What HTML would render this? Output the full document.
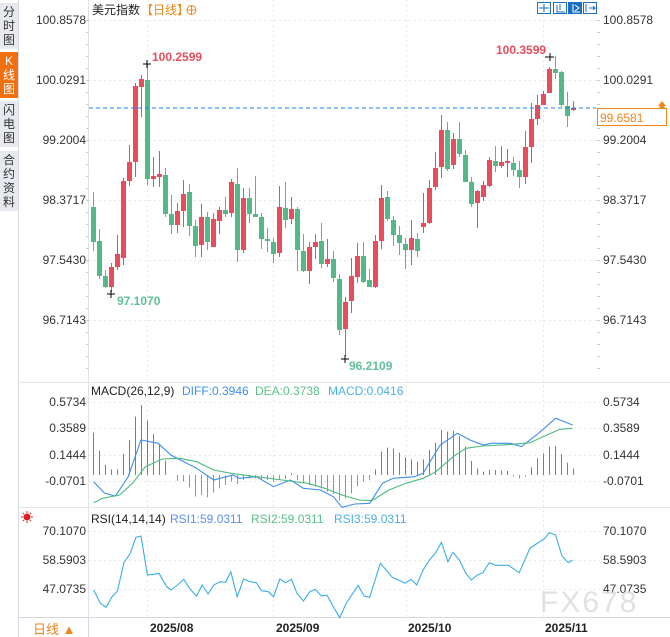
<!DOCTYPE html>
<html><head><meta charset="utf-8">
<style>
html,body{margin:0;padding:0;background:#fff;width:670px;height:637px;overflow:hidden;font-family:"Liberation Sans","Noto Sans CJK SC",sans-serif;}
#side{position:absolute;left:0;top:0;width:18px;height:637px;background:#fff;border-right:1px solid #d8dce3;}
.tab{position:absolute;left:0;width:18px;background:#e7e9ef;color:#333;font-size:12px;line-height:14px;text-align:center;}
svg{position:absolute;left:0;top:0;}
</style></head><body>
<svg id="s" width="670" height="637" xmlns="http://www.w3.org/2000/svg" font-family="Liberation Sans, Noto Sans CJK SC, sans-serif">
<rect x="0" y="0" width="670" height="637" fill="#fff"/>
<!-- panel frame -->
<line x1="88.5" y1="0" x2="88.5" y2="637" stroke="#dfe3e8"/>
<line x1="18" y1="382.5" x2="670" y2="382.5" stroke="#e3e6ea"/>
<line x1="18" y1="507.5" x2="670" y2="507.5" stroke="#e3e6ea"/>
<line x1="18" y1="617.5" x2="670" y2="617.5" stroke="#d5d9df"/>
<line x1="88.5" y1="617" x2="88.5" y2="637" stroke="#d5d9df"/>
<g id="grid" stroke="#e6e8ec" stroke-dasharray="2,3"></g>
<g id="draw"></g>
<!-- dashed current price line -->
<line x1="89" y1="108" x2="596" y2="108" stroke="#1a84f0" stroke-dasharray="4,3"/>
<!-- axis labels -->
<g font-size="12" fill="#333">
<text x="86" y="24" text-anchor="end">100.8578</text>
<text x="86" y="84" text-anchor="end">100.0291</text>
<text x="86" y="144" text-anchor="end">99.2004</text>
<text x="86" y="204" text-anchor="end">98.3717</text>
<text x="86" y="264" text-anchor="end">97.5430</text>
<text x="86" y="324" text-anchor="end">96.7143</text>
<text x="603" y="24">100.8578</text>
<text x="603" y="84">100.0291</text>
<text x="603" y="144">99.2004</text>
<text x="603" y="204">98.3717</text>
<text x="603" y="264">97.5430</text>
<text x="603" y="324">96.7143</text>
<text x="86" y="406" text-anchor="end">0.5734</text>
<text x="86" y="432" text-anchor="end">0.3589</text>
<text x="86" y="459" text-anchor="end">0.1444</text>
<text x="86" y="485" text-anchor="end">-0.0701</text>
<text x="603" y="406">0.5734</text>
<text x="603" y="432">0.3589</text>
<text x="603" y="459">0.1444</text>
<text x="603" y="485">-0.0701</text>
<text x="86" y="535" text-anchor="end">70.1070</text>
<text x="86" y="564" text-anchor="end">58.5903</text>
<text x="86" y="593" text-anchor="end">47.0735</text>
<text x="603" y="535">70.1070</text>
<text x="603" y="564">58.5903</text>
<text x="603" y="593">47.0735</text>
</g>
<!-- price box -->
<rect x="597.5" y="108.5" width="69" height="17" fill="#fff" stroke="#f08519"/>
<text x="600" y="122" font-size="12" fill="#f08519">99.6581</text>
<path d="M662 101 l4 5 h-8z M662 104 l4 5 h-8z" fill="#f08519"/>
<!-- title -->
<text x="92" y="14" font-size="12" fill="#222">美元指数</text>
<text x="141" y="14" font-size="12" fill="#f08519">【日线】</text>
<circle cx="191.5" cy="10" r="4.5" fill="none" stroke="#f08519"/>
<line x1="187" y1="10" x2="196" y2="10" stroke="#f08519"/><line x1="191.5" y1="5.5" x2="191.5" y2="14.5" stroke="#f08519"/>
<!-- toolbar icons -->
<g stroke="#1a6fc0" fill="none">
<rect x="537.5" y="2.5" width="13" height="11"/><rect x="553.5" y="2.5" width="13" height="11"/>
<rect x="568.5" y="2.5" width="13" height="11" fill="#1a6fc0"/><rect x="583.5" y="2.5" width="13" height="11"/>
<path d="M544 4v8M539 8h10M557 5v7h8M560 4v6M573 4v8h7M575 5l4 3-4 3M586 4v8M589 8h6l-2-2m2 2l-2 2"/>
</g>
<path d="M573 4v8h7M575 5l4 3-4 3" stroke="#fff" fill="none"/>
<!-- annotations -->
<g font-size="12" font-weight="bold">
<text x="152" y="61" fill="#e84d5d">100.2599</text>
<text x="496" y="54" fill="#e84d5d">100.3599</text>
<text x="117" y="305" fill="#5fbf98">97.1070</text>
<text x="349" y="370" fill="#5fbf98">96.2109</text>
</g>
<g stroke="#000">
<path d="M143 64h8M147 60v8M545 57h9M550 53v8M107 294h8M111 290v8M341 359h8M345 355v8"/>
</g>
<!-- MACD title -->
<g font-size="12">
<text x="91" y="395" fill="#222">MACD(26,12,9)</text>
<text x="182" y="395" fill="#3d8ef0">DIFF:0.3946</text>
<text x="255" y="395" fill="#5cc08a">DEA:0.3738</text>
<text x="328" y="395" fill="#4ab0e8">MACD:0.0416</text>
<text x="91" y="523" fill="#222">RSI(14,14,14)</text>
<text x="170" y="523" fill="#5a8ef0">RSI1:59.0311</text>
<text x="251" y="523" fill="#5cc08a">RSI2:59.0311</text>
<text x="334" y="523" fill="#4ab0e8">RSI3:59.0311</text>
</g>
<g stroke="#e02020" fill="none"><circle cx="27" cy="517" r="3" fill="#e02020"/><path d="M21 517h2M31 517h2M27 511v2M27 521v2M23 513l1 1M31 513l-1 1M23 521l1-1M31 521l-1-1"/></g>
<!-- bottom axis -->
<g font-size="12" font-weight="bold" fill="#222">
<text x="150" y="632">2025/08</text>
<text x="276" y="632">2025/09</text>
<text x="408" y="632">2025/10</text>
<text x="545" y="632">2025/11</text>
</g>
<text x="33" y="634" font-size="13" fill="#f08519">日线 ▲</text>
<text x="540" y="612" font-size="30" fill="#d8dadd" fill-opacity="0.8" letter-spacing="2">FX678</text>
</svg>
<div id="side">
<div class="tab" style="top:3px;height:44px;padding-top:2px">分<br>时<br>图</div>
<div class="tab" style="top:52px;height:44px;background:#f26f10;color:#fff;padding-top:2px">K<br>线<br>图</div>
<div class="tab" style="top:101px;height:44px;padding-top:2px">闪<br>电<br>图</div>
<div class="tab" style="top:151px;height:58px;padding-top:2px">合<br>约<br>资<br>料</div>
</div>
<script>
var NS="http://www.w3.org/2000/svg";
function el(p,t,a){var e=document.createElementNS(NS,t);for(var k in a)e.setAttribute(k,a[k]);p.appendChild(e);return e;}
var g=document.getElementById('grid'),d=document.getElementById('draw');
[20,80,140,200,260,320,402,428,455,481,531,560,589].forEach(function(y){el(g,'line',{x1:89,y1:y+.5,x2:600,y2:y+.5});});
[147,273,406,543].forEach(function(x){el(g,'line',{x1:x+.5,y1:0,x2:x+.5,y2:617});});
for(var y=20;y<380;y+=12){el(d,'line',{x1:86,y1:y+.5,x2:89,y2:y+.5,stroke:'#ccc'});el(d,'line',{x1:597,y1:y+.5,x2:600,y2:y+.5,stroke:'#ccc'});}
var R='#e84d5d',G='#52b987';
// [open,close,high,low] in pixel y
var C=[[207,242,192,251],[241,276,229,279],[276,287,270,288],[287,267,263,292],[267,254,235,270],[258,181,178,265],[181,162,145,186],[162,86,83,177],[87,79,75,117],[80,179,64,185],
[179,176,157,187],[177,174,151,187],[175,214,168,217],[214,225,195,234],[225,211,203,233],[211,194,180,227],[192,226,184,236],[226,246,220,257],[245,217,204,257],[217,242,212,250],
[247,219,213,247],[221,210,207,234],[210,214,197,217],[213,182,179,217],[184,250,168,262],[250,198,188,253],[198,214,188,223],[214,217,176,217],[217,239,213,249],[239,241,228,252],
[242,254,238,263],[253,207,186,257],[208,220,182,228],[219,209,197,224],[209,250,207,271],[251,271,234,272],[271,247,242,284],[247,242,234,259],[241,264,223,268],[264,259,239,267],
[259,278,251,282],[279,330,274,335],[329,302,297,356],[301,276,258,313],[277,256,243,283],[256,282,242,283],[280,287,269,287],[287,241,235,288],[241,198,185,249],[197,219,191,221],
[220,235,216,246],[235,243,226,255],[244,250,238,269],[250,238,220,265],[239,251,233,257],[227,223,193,233],[223,188,180,224],[187,168,152,190],[167,130,115,178],[130,169,122,171],
[165,139,133,169],[139,154,122,157],[155,182,150,182],[182,204,177,207],[203,191,190,228],[197,185,181,201],[186,160,157,187],[161,166,146,172],[166,162,146,168],[163,161,149,177],
[163,170,157,176],[170,177,161,188],[177,147,131,184],[147,119,103,163],[119,105,95,125],[105,94,91,105],[93,69,67,93],[69,73,56,79],[72,105,71,107],[106,116,92,127],[110,108,101,111]];
C.forEach(function(c,i){var x=93.5+6*i,col=c[1]<c[0]?R:G;
el(d,'line',{x1:x,y1:c[2],x2:x,y2:c[3],stroke:col});
var t=Math.min(c[0],c[1]),h=Math.max(1.5,Math.abs(c[0]-c[1]));el(d,'rect',{x:x-2.5,y:t,width:5,height:h,fill:col});});
var H=[158,212,255,268,268,221,180,110,75,122,162,192,242,285,303,305,322,350,345,352,338,325,315,305,312,300,295,296,298,300,305,300,297,280,300,310,315,320,325,335,342,362,355,340,318,305,300,268,215,203,205,218,232,238,245,238,210,188,150,155,152,168,200,243,265,275,270,270,272,273,290,296,290,262,235,220,200,198,222,248,266];
H.forEach(function(v,i){var x=93.5+6*i,y=380+v/3,b=475;if(Math.abs(y-b)<.5)return;
el(d,'line',{x1:x,y1:Math.min(y,b),x2:x,y2:Math.max(y,b),stroke:y<b?R:G});});
function line(pts,col,oy,sx,sy){var s=pts.map(function(p){return (p[0]/sx).toFixed(1)+','+(oy+p[1]/sy).toFixed(1)}).join(' ');el(d,'polyline',{points:s,fill:'none',stroke:col,'stroke-width':1.1});}
line([[219,305],[245,340],[270,348],[300,290],[330,180],[370,190],[400,225],[430,245],[460,265],[500,300],[530,290],[545,285],[560,295],[600,290],[640,320],[680,300],[710,325],[750,330],[780,350],[800,382],[830,372],[865,370],[895,310],[920,295],[970,290],[990,280],[1030,195],[1070,160],[1100,180],[1130,195],[1150,190],[1195,190],[1220,200],[1260,160],[1300,115],[1340,135]],'#3d8ef0',380,2.34,3);
line([[219,368],[240,355],[280,345],[310,310],[340,260],[380,237],[420,235],[460,245],[500,270],[540,280],[600,290],[660,300],[720,310],[760,325],[800,345],[840,360],[870,362],[910,330],[950,310],[990,295],[1020,275],[1060,230],[1090,205],[1130,198],[1200,193],[1240,188],[1280,165],[1310,148],[1340,145]],'#4cbb7f',380,2.34,3);
line([[219,630],[235,670],[248,682],[262,650],[275,633],[290,548],[305,520],[318,472],[330,468],[345,585],[360,583],[372,580],[390,620],[400,630],[415,615],[430,598],[445,628],[460,648],[473,615],[487,642],[500,615],[515,605],[528,607],[540,575],[555,650],[570,597],[585,605],[600,608],[612,632],[628,635],[640,650],[655,597],[668,608],[682,598],[695,640],[710,663],[725,635],[738,628],[752,648],[765,645],[780,680],[795,713],[810,670],[838,616],[852,648],[865,652],[890,550],[905,572],[918,592],[932,600],[948,610],[962,598],[975,615],[990,570],[1005,540],[1020,517],[1033,487],[1048,545],[1060,517],[1075,540],[1090,580],[1103,600],[1117,585],[1130,578],[1145,548],[1160,556],[1190,556],[1215,578],[1240,505],[1255,492],[1275,475],[1285,458],[1300,465],[1315,528],[1330,548],[1340,540]],'#3aaee8',380,2.34,3);
// move labels on top
var s=document.getElementById('s');
</script>
</body></html>
